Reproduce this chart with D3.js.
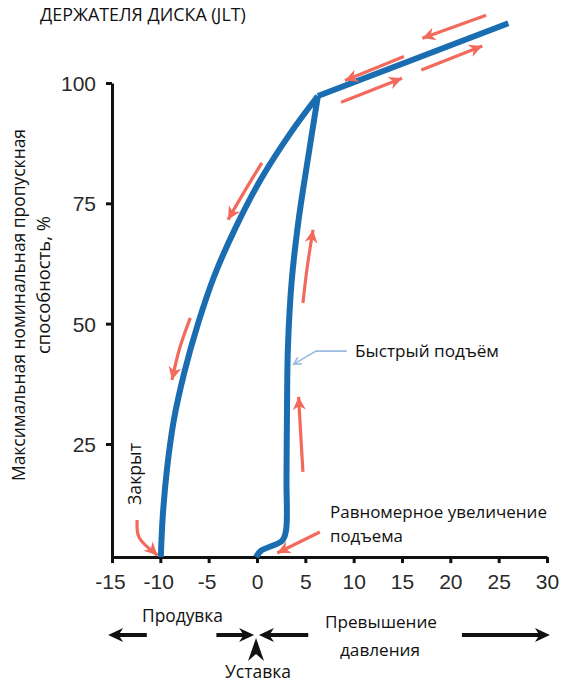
<!DOCTYPE html>
<html><head><meta charset="utf-8">
<script src="https://cdn.jsdelivr.net/npm/d3@7/dist/d3.min.js"></script>
<style>html,body{margin:0;padding:0;background:#fff;}svg{display:block;}</style>
</head><body>
<script>
// ---------- data ----------
const xTicks = [-15, -10, -5, 0, 5, 10, 15, 20, 25, 30];
const yTicks = [25, 50, 75, 100];
// opening (lift) branch, bottom to the knee
const openX = [-0.1, 0.4, 2.6, 3.0, 3.05, 3.1, 3.2, 3.6, 4.3, 5.2, 6.3];
const openY = [1.5, 2.8, 4.9, 7.0, 17.5, 31.4, 45.2, 59.1, 71.5, 83.4, 97.3];
// overpressure segment, knee to top end
const overX = [6.3, 26.0];
const overY = [97.3, 112.4];
// closing (blowdown) branch, knee to the seat
const closeX = [6.3, 3.6, 0.4, -2.2, -4.4, -6.1, -7.5, -8.6, -9.3, -9.75, -9.95];
const closeY = [97.3, 90, 80, 70, 60, 50, 40, 30, 20, 10, 1.5];
// red direction arrows (data units), each a list of [x,y]
const redArrows = [
  [[23.7, 114.1], [17.1, 109.3]],
  [[15.2, 105.5], [9.1, 100.5]],
  [[8.7, 96.0], [15.0, 101.0]],
  [[17.0, 102.7], [23.3, 107.7]],
  [[0.5, 83.4], [-1.2, 77.8], [-3.0, 71.6]],
  [[-6.9, 51.2], [-8.0, 44.9], [-8.8, 38.3]],
  [[4.75, 54.3], [5.2, 61.8], [5.8, 69.5]],
  [[4.75, 19.2], [4.3, 34.8]],
  [[-12.4, 9.2], [-12.2, 5.6], [-10.3, 1.9]],
  [[6.5, 6.7], [2.1, 2.35]]
];
const calloutPts = [[9.3, 44.3], [6.1, 44.3], [3.8, 41.6]];
const titleText = "ДЕРЖАТЕЛЯ ДИСКА (JLT)";
const yLabel = ["Максимальная номинальная пропускная", "способность, %"];
const baseline = 1.5;

// ---------- setup ----------
const W = 564, H = 684;
const svg = d3.select("body").append("svg").attr("width", W).attr("height", H);
const x = d3.scaleLinear().domain([-15, 30]).range([112, 547]);
const y = d3.scaleLinear().domain([0, 100]).range([564.3, 83]);
const BLUE = "#1a6db0", RED = "#f26a5c";
const FONT = "'Open Sans', 'Noto Sans', sans-serif";
const NUMFONT = "'Liberation Sans', Arial, sans-serif";

function fit(t, w) {
  const len = t.node().getComputedTextLength();
  const fs = parseFloat(t.attr("font-size"));
  t.attr("font-size", (fs * w / len).toFixed(2));
  return t;
}

// ---------- axes ----------
const yAxisScale = y.copy().domain([baseline, 100]).range([y(baseline), y(100)]);
const gx = svg.append("g").attr("transform", `translate(0,${y(baseline)})`)
  .call(d3.axisBottom(x).tickValues(xTicks).tickSize(6).tickSizeOuter(0).tickPadding(6).tickFormat(d => String(d)));
const gy = svg.append("g").attr("transform", `translate(${x(-15)},0)`)
  .call(d3.axisLeft(yAxisScale).tickValues(yTicks).tickSize(6).tickSizeOuter(0).tickPadding(10).tickFormat(d => String(d)));
[gx, gy].forEach(g => {
  g.select(".domain").attr("stroke", "#111").attr("stroke-width", 3);
  g.selectAll(".tick line").attr("stroke", "#111").attr("stroke-width", 3);
  g.selectAll(".tick text").attr("font-family", NUMFONT).attr("font-size", 21).attr("fill", "#2a2a2a");
});
gx.selectAll(".tick text").attr("dy", "0.95em").attr("dx", d => d < 0 ? "-0.1em" : 0);
gy.selectAll(".tick text").attr("dy", "0.36em");

// ---------- curve ----------
const line = d3.line().x(d => x(d[0])).y(d => y(d[1]));
const smooth = d3.line().x(d => x(d[0])).y(d => y(d[1])).curve(d3.curveCatmullRom.alpha(0.5));
const zip = (a, b) => a.map((v, i) => [v, b[i]]);
svg.append("path").attr("d", smooth(zip(openX, openY)))
  .attr("fill", "none").attr("stroke", BLUE).attr("stroke-width", 6);
svg.append("path").attr("d", smooth(zip(closeX, closeY)))
  .attr("fill", "none").attr("stroke", BLUE).attr("stroke-width", 6);
svg.append("path").attr("d", line(zip(overX, overY)))
  .attr("fill", "none").attr("stroke", BLUE).attr("stroke-width", 6).attr("stroke-linejoin", "miter");

// ---------- red arrows ----------
function arrowHead(g, p1, p2, color, len, half) {
  const a = Math.atan2(p2[1] - p1[1], p2[0] - p1[0]);
  const c = Math.cos(a), s = Math.sin(a);
  const bx = p2[0] - c * len, by = p2[1] - s * len;
  const nx = p2[0] - c * len * 0.7, ny = p2[1] - s * len * 0.7;
  g.append("path")
    .attr("d", `M${p2[0]},${p2[1]}L${bx - s * half},${by + c * half}L${nx},${ny}L${bx + s * half},${by - c * half}Z`)
    .attr("fill", color);
}
redArrows.forEach(pts => {
  const px = pts.map(p => [x(p[0]), y(p[1])]);
  const g = svg.append("g");
  const gen = d3.line().curve(pts.length > 2 ? d3.curveCatmullRom : d3.curveLinear);
  g.append("path").attr("d", gen(px)).attr("fill", "none").attr("stroke", RED).attr("stroke-width", 3.2);
  const n = px.length;
  const prev = n > 2 ? [ (px[n - 2][0] + px[n - 1][0]) / 2, (px[n - 2][1] + px[n - 1][1]) / 2 ] : px[0];
  arrowHead(g, prev, px[n - 1], RED, 13, 6.5);
});

// ---------- callout ----------
const cp = calloutPts.map(p => [x(p[0]), y(p[1])]);
svg.append("path").attr("d", d3.line()(cp)).attr("fill", "none").attr("stroke", "#9dbbe0").attr("stroke-width", 1.6);
{
  const p1 = cp[1], p2 = cp[2];
  const a = Math.atan2(p2[1] - p1[1], p2[0] - p1[0]);
  const L = 8, A = 0.5;
  svg.append("path")
    .attr("d", `M${p2[0] - L * Math.cos(a - A)},${p2[1] - L * Math.sin(a - A)}L${p2[0]},${p2[1]}L${p2[0] - L * Math.cos(a + A)},${p2[1] - L * Math.sin(a + A)}`)
    .attr("fill", "none").attr("stroke", "#9dbbe0").attr("stroke-width", 1.6);
}

// ---------- texts ----------
function txt(s, tx, ty, w, fs, anchor) {
  const t = svg.append("text").attr("x", tx).attr("y", ty).attr("font-family", FONT)
    .attr("font-size", fs).attr("fill", "#111").attr("text-anchor", anchor || "start").text(s);
  return fit(t, w);
}
txt(titleText, 40, 21, 206, 15);
txt("Быстрый подъём", 355, 357, 144, 17);
txt("Равномерное увеличение", 330, 518, 217, 17);
txt("подъема", 330, 542, 73, 17);
txt("Продувка", 142, 622, 81, 17);
txt("Превышение", 325, 628, 112, 17);
txt("давления", 340, 656, 80, 17);
txt("Уставка", 225, 678, 66, 17);

// rotated texts
function rtxt(s, cx, cy, w, fs) {
  const t = svg.append("text").attr("transform", `translate(${cx},${cy}) rotate(-90)`)
    .attr("font-family", FONT).attr("font-size", fs).attr("fill", "#111")
    .attr("text-anchor", "middle").text(s);
  return fit(t, w);
}
rtxt("Закрыт", 141, 474, 62, 17);
rtxt(yLabel[0], 25, 305, 352, 17);
rtxt(yLabel[1], 50, 285, 138, 17);

// ---------- bottom direction arrows ----------
const by = 635;
const bottomArrows = [[-11.4, -15.4], [-4.2, -0.3], [5.3, 0.2], [21.2, 30.3]];
bottomArrows.forEach(([a, b]) => {
  const g = svg.append("g");
  const x1 = x(a), x2 = x(b);
  const dir = Math.sign(x2 - x1);
  g.append("line").attr("x1", x1).attr("x2", x2 - dir * 8).attr("y1", by).attr("y2", by)
    .attr("stroke", "#111").attr("stroke-width", 4);
  arrowHead(g, [x1, by], [x2, by], "#111", 15, 7);
});
// set-point caret
{
  const cx = x(-0.1);
  svg.append("path").attr("d", `M${cx},${by + 3}L${cx + 8},${by + 26}L${cx},${by + 19}L${cx - 8},${by + 26}Z`).attr("fill", "#111");
}
</script>
</body></html>
